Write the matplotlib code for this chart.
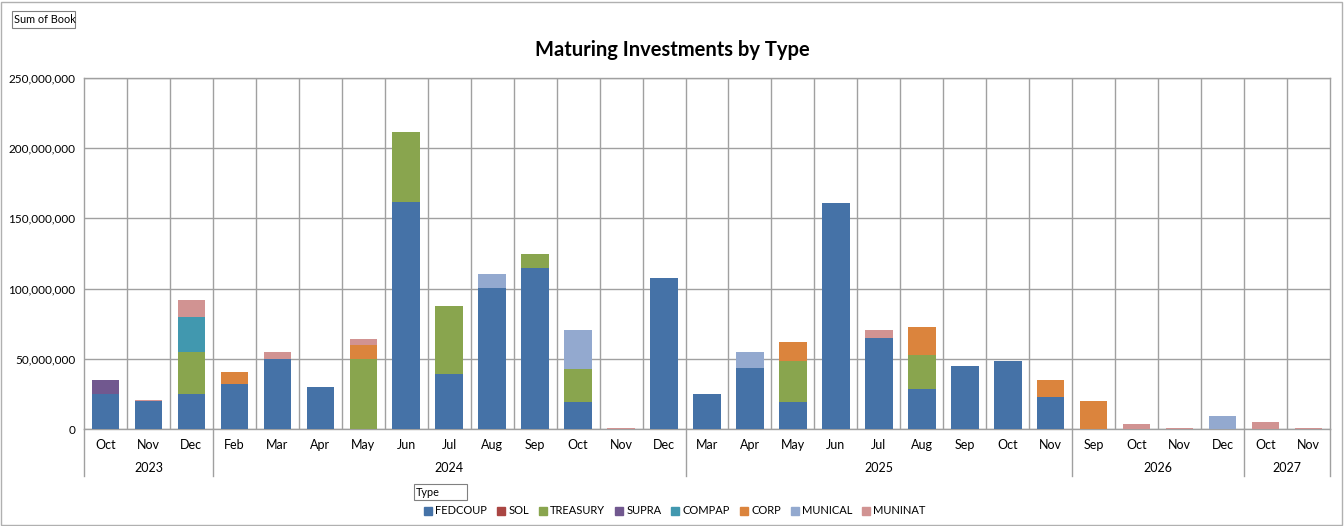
import matplotlib
matplotlib.use("Agg")
import matplotlib.pyplot as plt
from matplotlib.patches import Rectangle
from matplotlib.lines import Line2D
from matplotlib.ticker import FuncFormatter
import numpy as np

plt.rcParams['font.family'] = ['Lato', 'DejaVu Sans']

years = ["2023", "2024", "2025", "2026", "2027"]
months = [
    ["Oct", "Nov", "Dec"],
    ["Feb", "Mar", "Apr", "May", "Jun", "Jul", "Aug", "Sep", "Oct", "Nov", "Dec"],
    ["Mar", "Apr", "May", "Jun", "Jul", "Aug", "Sep", "Oct", "Nov"],
    ["Sep", "Oct", "Nov", "Dec"],
    ["Oct", "Nov"],
]

types = ["FEDCOUP", "SOL", "TREASURY", "SUPRA", "COMPAP", "CORP", "MUNICAL", "MUNINAT"]
colors = ["#4572A7", "#AA4643", "#89A54E", "#71588F", "#4198AF", "#DB843D", "#93A9CF", "#D19392"]

# values in millions, one per category (29 categories)
FEDCOUP = [25, 20, 25, 32, 50, 30, 0, 161.7, 39, 100.4, 114.7, 19.2, 0, 107.5,
           25, 43.7, 19.5, 161, 65, 28.3, 44.9, 48.2, 23, 0, 0, 0, 0, 0, 0]
SOL = [0] * 29
TREASURY = [0, 0, 30, 0, 0, 0, 50, 49.8, 48.6, 0, 10, 23.5, 0, 0,
            0, 0, 28.9, 0, 0, 24.6, 0, 0, 0, 0, 0, 0, 0, 0, 0]
SUPRA = [10, 0, 0, 0, 0, 0, 0, 0, 0, 0, 0, 0, 0, 0,
         0, 0, 0, 0, 0, 0, 0, 0, 0, 0, 0, 0, 0, 0, 0]
COMPAP = [0, 0, 25, 0, 0, 0, 0, 0, 0, 0, 0, 0, 0, 0,
          0, 0, 0, 0, 0, 0, 0, 0, 0, 0, 0, 0, 0, 0, 0]
CORP = [0, 0, 0, 8.6, 0, 0, 10, 0, 0, 0, 0, 0, 0, 0,
        0, 0, 13.6, 0, 0, 19.7, 0, 0, 11.7, 19.7, 0, 0, 0, 0, 0]
MUNICAL = [0, 0, 0, 0, 0, 0, 0, 0, 0, 10, 0, 28, 0, 0,
           0, 11, 0, 0, 0, 0, 0, 0, 0, 0, 0, 0, 9.5, 0, 0]
MUNINAT = [0, 0.8, 12, 0, 5, 0, 4, 0, 0, 0, 0, 0, 0.6, 0,
           0, 0, 0, 0, 5.5, 0, 0, 0, 0, 0, 3.8, 0.6, 0, 5, 0.6]

series = [FEDCOUP, SOL, TREASURY, SUPRA, COMPAP, CORP, MUNICAL, MUNINAT]

W, H = 1344, 526
fig = plt.figure(figsize=(W / 100, H / 100), dpi=100)

L, R, T, B = 84, 1330, 78, 429
ax = fig.add_axes([L / W, 1 - B / H, (R - L) / W, (B - T) / H])

n = sum(len(m) for m in months)
x = np.arange(n)
bottom = np.zeros(n)
for name, vals, c in zip(types, series, colors):
    v = np.array(vals) * 1e6
    ax.bar(x, v, width=0.64, bottom=bottom, color=c, label=name, linewidth=0, zorder=3)
    bottom += v

ax.set_xlim(-0.5, n - 0.5)
ax.set_ylim(0, 250e6)
ax.set_yticks(np.arange(0, 250e6 + 1, 50e6))
ax.yaxis.set_major_formatter(FuncFormatter(lambda v, p: f"{int(v):,}"))
ax.tick_params(axis='y', length=0, labelsize=8.5, pad=6)
ax.set_xticks([])
ax.grid(axis='y', color='#a0a0a0', linewidth=1, zorder=0)
for i in range(1, n):
    ax.axvline(i - 0.5, color='#a0a0a0', linewidth=1, zorder=0)
for s in ax.spines.values():
    s.set_color('#a0a0a0')
    s.set_linewidth(1)

trans = ax.get_xaxis_transform()
ext = -(476 - B) / (B - T)
my = -(445 - B) / (B - T)
yy = -(467.5 - B) / (B - T)
i = 0
bounds = [-0.5]
for yr, ms in zip(years, months):
    start = i
    for m in ms:
        ax.text(i, my, m, transform=trans, ha='center', va='center', fontsize=9)
        i += 1
    ax.text((start + i - 1) / 2, yy, yr, transform=trans, ha='center', va='center', fontsize=9)
    bounds.append(i - 0.5)
for b in bounds:
    ax.add_line(Line2D([b, b], [0, ext], transform=trans, color='#a0a0a0', linewidth=1, clip_on=False))

fig.text(0.5, 1 - 50 / H, "Maturing Investments by Type", ha='center', va='center',
         fontsize=14.5, fontweight='bold')

# outer border
fig.add_artist(Rectangle((1 / W, 1 / H), (W - 3) / W, (H - 3) / H, transform=fig.transFigure,
                         fill=False, edgecolor='#b0b0b0', linewidth=1))

# field buttons
def field_box(x0, y0, x1, y1, txt):
    fig.add_artist(Rectangle((x0 / W, 1 - y1 / H), (x1 - x0) / W, (y1 - y0) / H,
                             transform=fig.transFigure, fill=False, edgecolor='#808080', linewidth=0.8))
    fig.text((x0 + 1.5) / W, 1 - (y0 + y1) / 2 / H, txt, ha='left', va='center', fontsize=7.8)

field_box(12, 11, 75, 28, "Sum of Book")
field_box(414, 484, 467, 500, "Type")

handles = [Rectangle((0, 0), 1, 1, color=c) for c in colors]
fig.legend(handles, types, loc='center', bbox_to_anchor=(675 / W, 1 - 511 / H), ncol=8,
           frameon=False, fontsize=8, handlelength=0.7, handleheight=0.7, handletextpad=0.3,
           columnspacing=0.9)

fig.savefig("out.png", dpi=100)
